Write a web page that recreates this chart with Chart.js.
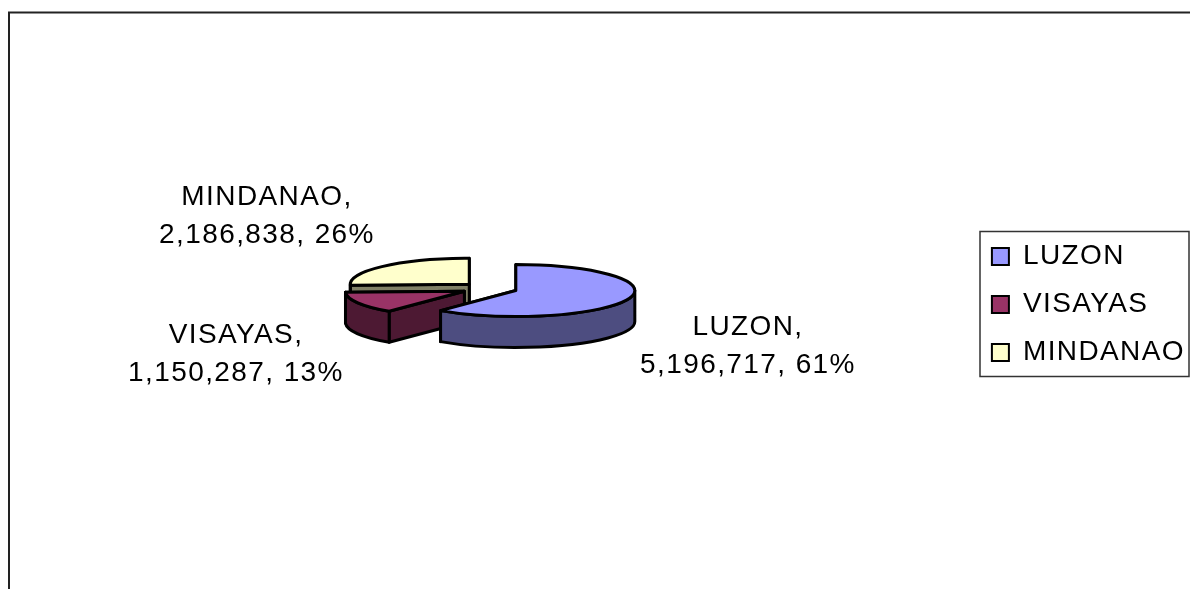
<!DOCTYPE html>
<html>
<head>
<meta charset="utf-8">
<style>
  html, body { margin: 0; padding: 0; background: #fff; overflow: hidden; }
  #wrap { position: relative; width: 1190px; height: 589px; }
</style>
<script src="https://cdn.jsdelivr.net/npm/chart.js@4/dist/chart.umd.min.js"></script>
</head>
<body>
<div id="wrap"><canvas id="pie"></canvas></div>
<script>
const regionNames = ['LUZON', 'VISAYAS', 'MINDANAO'];
const regionValues = [5196717, 1150287, 2186838];
const topColors = ['#9999ff', '#993366', '#ffffcc'];
const sideColors = ['#4d4d80', '#4d1933', '#808066'];

const TILT = 0.218;
const DEPTH = 31;
const TEXT_FONT = '28px "Liberation Sans", Arial, sans-serif';
const TEXT_SPACING = '1.4px';

// centre of each two-line data label
const labelSpots = [
    { x: 748, y: 346 },
    { x: 236, y: 354 },
    { x: 267, y: 216 }
];

const total = regionValues.reduce((a, b) => a + b, 0);

// flattened pie: angles and radius come from the arc elements
const tiltedPie = {
    id: 'tiltedPie',
    beforeLayout(chart) {
        chart.ctx.letterSpacing = TEXT_SPACING;
    },
    afterLayout(chart) {
        chart.legend.top += 16;
        chart.legend.bottom += 16;
        chart.legend.left += 5;
        chart.legend.right += 5;
    },
    beforeDraw(chart) {
        const ctx = chart.ctx;
        ctx.letterSpacing = TEXT_SPACING;
        ctx.save();
        ctx.strokeStyle = '#222';
        ctx.lineWidth = 2;
        ctx.beginPath();
        ctx.moveTo(9, 589);
        ctx.lineTo(9, 12.5);
        ctx.lineTo(1190, 12.5);
        ctx.stroke();
        ctx.restore();
    },
    beforeDatasetsDraw(chart) {
        const ctx = chart.ctx;
        const arcs = chart.getDatasetMeta(0).data;
        ctx.save();
        ctx.strokeStyle = '#000';
        ctx.lineWidth = 3;
        ctx.lineJoin = 'round';
        [2, 1, 0].forEach(i => drawSlice(ctx, arcs[i], i));
        ctx.restore();
        return false;
    },
    afterDraw(chart) {
        const ctx = chart.ctx;
        const boxes = chart.legend.legendHitBoxes;
        ctx.save();
        ctx.strokeStyle = '#333';
        ctx.lineWidth = 1.5;
        const top = boxes[0].top - 11;
        const bottom = boxes[2].top + boxes[2].height + 10;
        ctx.strokeRect(980, top, 209, bottom - top);

        ctx.fillStyle = '#000';
        ctx.font = TEXT_FONT;
        ctx.textAlign = 'center';
        ctx.textBaseline = 'middle';
        regionNames.forEach((name, i) => {
            const pct = Math.round(regionValues[i] / total * 100);
            const line2 = regionValues[i].toLocaleString('en-US') + ', ' + pct + '%';
            ctx.fillText(name + ',', labelSpots[i].x, labelSpots[i].y - 19);
            ctx.fillText(line2, labelSpots[i].x, labelSpots[i].y + 19);
        });
        ctx.restore();
    }
};

function drawSlice(ctx, arc, i) {
    const r = arc.outerRadius;
    const ry = r * TILT;
    const s = arc.startAngle;
    const e = arc.endAngle;
    const mid = (s + e) / 2;
    const cx = arc.x + Math.cos(mid) * arc.options.offset;
    const cy = arc.y + Math.sin(mid) * arc.options.offset * TILT;
    const px = a => cx + Math.cos(a) * r;
    const py = a => cy + Math.sin(a) * ry;

    // cut faces, the one further back first
    ctx.fillStyle = sideColors[i];
    [s, e].sort((a, b) => Math.sin(a) - Math.sin(b)).forEach(a => {
        ctx.beginPath();
        ctx.moveTo(cx, cy);
        ctx.lineTo(px(a), py(a));
        ctx.lineTo(px(a), py(a) + DEPTH);
        ctx.lineTo(cx, cy + DEPTH);
        ctx.closePath();
        ctx.fill();
        ctx.stroke();
    });

    // outer wall, only the part facing the viewer
    const from = Math.max(s, 0);
    const to = Math.min(e, Math.PI);
    if (to > from) {
        ctx.beginPath();
        ctx.ellipse(cx, cy, r, ry, 0, from, to);
        ctx.lineTo(px(to), py(to) + DEPTH);
        ctx.ellipse(cx, cy + DEPTH, r, ry, 0, to, from, true);
        ctx.closePath();
        ctx.fill();
        ctx.stroke();
    }

    // top
    ctx.fillStyle = topColors[i];
    ctx.beginPath();
    ctx.moveTo(cx, cy);
    ctx.ellipse(cx, cy, r, ry, 0, s, e);
    ctx.closePath();
    ctx.fill();
    ctx.stroke();
}

new Chart(document.getElementById('pie'), {
    type: 'pie',
    data: {
        labels: regionNames,
        datasets: [{
            data: regionValues,
            backgroundColor: topColors,
            borderColor: '#000',
            borderWidth: 2,
            offset: 28
        }]
    },
    options: {
        responsive: true,
        maintainAspectRatio: false,
        animation: false,
        radius: 119,
        layout: { padding: { top: 0, bottom: 12, left: 12, right: 0 } },
        plugins: {
            tooltip: { enabled: false },
            legend: {
                position: 'right',
                labels: {
                    boxWidth: 17,
                    boxHeight: 17,
                    padding: 20,
                    color: '#000',
                    font: { family: '"Liberation Sans", Arial, sans-serif', size: 28, lineHeight: 1 }
                }
            }
        }
    },
    plugins: [tiltedPie]
});
</script>
</body>
</html>
